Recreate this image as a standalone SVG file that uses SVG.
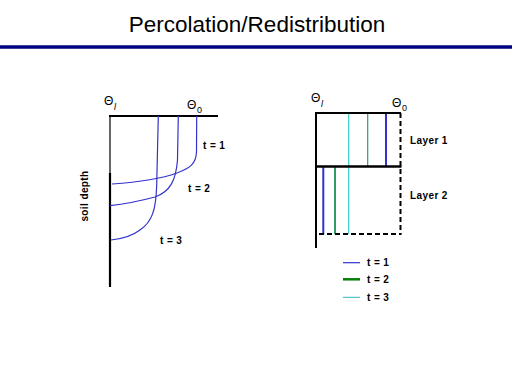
<svg xmlns="http://www.w3.org/2000/svg" width="512" height="384" viewBox="0 0 512 384">
<style>
text{font-family:"Liberation Sans",Arial,sans-serif;fill:#000}
.lab{font-size:10px;font-weight:bold;letter-spacing:0.4px}
.th{font-size:12px}
.sub{font-size:9px;font-style:italic}
.sub0{font-size:9px}
.ax{stroke:#000;fill:none}
.cv{stroke:#3333cc;fill:none;stroke-width:1.2}
.dash{stroke:#000;stroke-width:2;stroke-dasharray:5 3;fill:none}
</style>
<rect width="512" height="384" fill="#fff"/>
<g id="title">
<text x="257" y="32" font-size="22.5" text-anchor="middle">Percolation/Redistribution</text>
<line x1="0" y1="47" x2="512" y2="47" stroke="#000080" stroke-width="3.5"/>
</g>
<g id="left-panel">
<line class="ax" x1="109" y1="116" x2="218" y2="116" stroke-width="2"/>
<line class="ax" x1="110" y1="116" x2="110" y2="174" stroke-width="1.2"/>
<line class="ax" x1="110" y1="173" x2="110" y2="287" stroke-width="2.2"/>
<text class="th" x="104" y="105">Θ</text><text class="sub" x="114" y="110">l</text>
<text class="th" x="187" y="109">Θ</text><text class="sub0" x="197" y="113">0</text>
<text class="lab" transform="translate(88,196) rotate(-90)" text-anchor="middle">soil depth</text>
<path class="cv" d="M196.7,116 L196.5,152 C196,164 190,168 177,173 C163,178 140,182 112,184" stroke-width="1.5"/>
<path class="cv" d="M178.3,116 L177.5,160 C176,180 170,192 155,197 C140,201 125,204 110,205.7"/>
<path class="cv" d="M158.3,116 L156.7,185 C156,210 152,222 140,230 C132,236 122,239 111,240"/>
<text class="lab" x="203" y="149">t = 1</text>
<text class="lab" x="188" y="192">t = 2</text>
<text class="lab" x="160" y="244">t = 3</text>
</g>
<g id="right-panel">
<text class="th" x="311" y="102">Θ</text><text class="sub" x="321" y="107">l</text>
<text class="th" x="392" y="107">Θ</text><text class="sub0" x="402" y="111">0</text>
<line x1="348.7" y1="113" x2="348.7" y2="234" stroke="#33cccc" stroke-width="1.2"/>
<line x1="367.7" y1="113" x2="367.7" y2="166" stroke="#339966" stroke-width="1.2"/>
<line x1="386" y1="113" x2="386" y2="166" stroke="#3333cc" stroke-width="2"/>
<line x1="323.3" y1="166" x2="323.3" y2="234" stroke="#3333cc" stroke-width="2"/>
<line x1="335" y1="166" x2="335" y2="234" stroke="#339966" stroke-width="2"/>
<line class="ax" x1="316" y1="113" x2="396" y2="113" stroke-width="2"/>
<line class="dash" x1="400.5" y1="113" x2="400.5" y2="234"/>
<line class="dash" x1="396" y1="113" x2="402" y2="113"/>
<line class="ax" x1="316" y1="166.5" x2="401.5" y2="166.5" stroke-width="2.5"/>
<line class="dash" x1="319" y1="234" x2="401.5" y2="234" stroke-width="1.5"/>
<line class="ax" x1="316" y1="112" x2="316" y2="248" stroke-width="2"/>
<text class="lab" x="410" y="144">Layer 1</text>
<text class="lab" x="410" y="199">Layer 2</text>
</g>
<g id="legend">
<line x1="343" y1="262.7" x2="360" y2="262.7" stroke="#3333cc" stroke-width="1.2"/>
<line x1="343" y1="279.3" x2="360" y2="279.3" stroke="#008000" stroke-width="2.5"/>
<line x1="343" y1="297.3" x2="360" y2="297.3" stroke="#33bbbb" stroke-width="1"/>
<text class="lab" x="367" y="266">t = 1</text>
<text class="lab" x="367" y="283">t = 2</text>
<text class="lab" x="367" y="301">t = 3</text>
</g>
</svg>
